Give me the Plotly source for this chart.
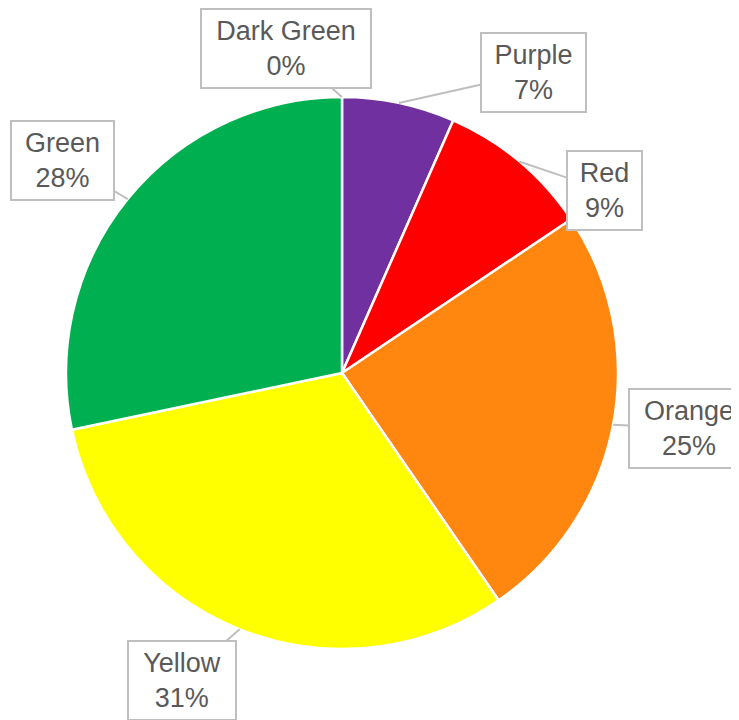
import math
import plotly.graph_objects as go

# ---- data ----
labels = ["Dark Green", "Purple", "Red", "Orange", "Yellow", "Green"]
values = [0.0, 6.6, 9.0, 24.8, 31.3, 28.3]
colors = ["#00602B", "#7030A0", "#FF0000", "#FF870F", "#FFFF00", "#00B050"]

# ---- layout constants (pixels, relative to the figure's own origin) ----
W, H = 739, 720
CX, CY, R = 334, 365, 276
# label box: (dx, dy of text centre relative to slice edge point, text width)
boxes = {
    "Dark Green": (-56, -49, 156),
    "Purple": (135, -30, 91),
    "Red": (85, 29, 61),
    "Orange": (76, 4, 106),
    "Yellow": (-58, 51, 94),
    "Green": (-65, -39, 89),
}

total = sum(values)
fig = go.Figure(go.Pie(
    labels=labels, values=values, sort=False, direction="clockwise", rotation=0,
    marker=dict(colors=colors, line=dict(color="white", width=2.5)),
    textinfo="none", hoverinfo="label+percent", showlegend=False,
    domain=dict(x=[(CX - R) / W, (CX + R) / W], y=[1 - (CY + R) / H, 1 - (CY - R) / H]),
))

annotations = []
cum = 0.0
for lab, v in zip(labels, values):
    mid = (cum + v / 2) / total * 2 * math.pi
    cum += v
    px = CX + R * math.sin(mid)
    py = CY - R * math.cos(mid)
    ax, ay, bw = boxes[lab]
    annotations.append(dict(
        x=px / W, y=1 - py / H, xref="paper", yref="paper",
        text=f"{lab}<br>{round(v / total * 100)}%",
        showarrow=True, arrowhead=0, arrowwidth=2, arrowcolor="#BFBFBF",
        ax=ax, ay=ay, standoff=0, width=bw,
        bordercolor="#BFBFBF", borderwidth=2, borderpad=6, bgcolor="white",
        font=dict(family="Liberation Sans, Arial, sans-serif", size=27, color="#595959"),
        align="center",
    ))

fig.update_layout(
    width=W, height=H, margin=dict(l=0, r=0, t=0, b=0),
    paper_bgcolor="white", plot_bgcolor="white",
    annotations=annotations,
)
fig.write_html("out.html")
